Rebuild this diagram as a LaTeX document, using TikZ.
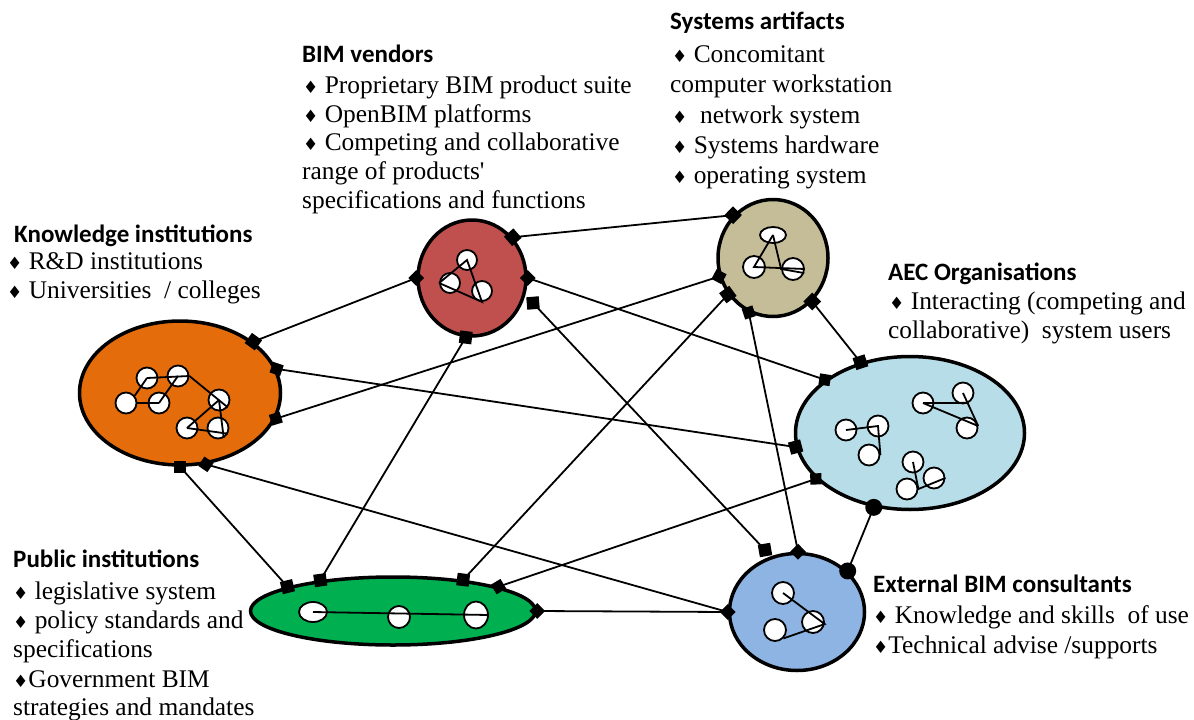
\documentclass[tikz,border=0pt]{standalone}
\usepackage{fontspec}
\setmainfont{Liberation Serif}
\newfontfamily\carlito{Carlito}
\newfontfamily\symf{DejaVu Sans}
\usetikzlibrary{shapes.geometric}
\definecolor{cOrange}{HTML}{E46C0A}
\definecolor{cRed}{HTML}{C0504D}
\definecolor{cTan}{HTML}{C4BD97}
\definecolor{cLblue}{HTML}{B7DEE8}
\definecolor{cGreen}{HTML}{00B050}
\definecolor{cBlue}{HTML}{8DB4E2}
\newcommand\dia{{\symf\fontsize{17}{17}\selectfont\char"2666}}
\begin{document}
\begin{tikzpicture}[x=1pt,y=-1pt,
  region/.style={ellipse, draw, line width=3.5pt, inner sep=0pt},
  dot/.style={circle, draw, fill=white, line width=1.8pt, inner sep=0pt, minimum size=21pt},
  oval/.style={ellipse, draw, fill=white, line width=1.8pt, inner sep=0pt},
  link/.style={line width=1.8pt},
  inner/.style={line width=1.8pt},
  sqm/.style={rectangle, fill=black, minimum size=12.5pt, inner sep=0pt},
  dmm/.style={diamond, fill=black, minimum width=16pt, minimum height=16pt, inner sep=0pt},
  clm/.style={circle, fill=black, minimum size=17pt, inner sep=0pt},
  ttl/.style={anchor=base west, inner sep=0pt, font=\carlito\bfseries\fontsize{25}{29}\selectfont},
  txt/.style={anchor=base west, inner sep=0pt, font=\fontsize{25.4}{30}\selectfont},
]
\useasboundingbox (0,0) rectangle (1194,720);

% regions
\node[region, fill=cOrange, minimum width=201pt, minimum height=144pt] (kn) at (180,393) {};
\node[region, fill=cRed, minimum width=108pt, minimum height=116pt] (bv) at (472,278) {};
\node[region, fill=cTan, minimum width=110pt, minimum height=117pt] (sa) at (773,258) {};
\node[region, fill=cLblue, minimum width=229pt, minimum height=153pt] (aec) at (910,433) {};
\node[region, fill=cGreen, minimum width=285pt, minimum height=68pt] (pub) at (393,611) {};
\node[region, fill=cBlue, minimum width=135pt, minimum height=117pt] (ext) at (797,612) {};

% knowledge inner
\node[dot] (k1) at (147,378) {};
\node[dot] (k2) at (178,376) {};
\node[dot] (k3) at (126,403) {};
\node[dot] (k4) at (159,403) {};
\node[dot] (k5) at (219,400) {};
\node[dot] (k6) at (187,428) {};
\node[dot] (k7) at (218,428) {};
\draw[inner] (k1.center) -- (k2.east);
\draw[inner] (k1.center) -- (k3.40);
\draw[inner] (k3.east) -- (k4.center);
\draw[inner] (k4.center) -- (k2.center);
\draw[inner] (k2.east) -- (k5.-40);
\draw[inner] (k5.center) -- (k6.center);
\draw[inner] (k6.center) -- (k7.-30);
\draw[inner] (k5.center) -- (k7.-60);

% BIM vendors inner
\node[dot, minimum size=20pt] (b1) at (467,260) {};
\node[dot, minimum size=20pt] (b2) at (450,283) {};
\node[dot, minimum size=20pt] (b3) at (482,291) {};
\draw[inner] (b2.west) -- (b1.center) -- (b3.south) -- (b2.west);

% systems inner
\node[oval, minimum width=26pt, minimum height=16pt] (s1) at (773,235) {};
\node[dot, minimum size=22pt] (s2) at (754,267) {};
\node[dot, minimum size=22pt] (s3) at (793,269) {};
\draw[inner] (s1.center) -- (s2.center) -- (s3.east);
\draw[inner] (s1.center) -- (s3.west) -- (s3.-20);

% AEC inner
\node[dot] (a1) at (846,430) {};
\node[dot] (a2) at (878,426) {};
\node[dot] (a3) at (869,455) {};
\draw[inner] (a1.center) -- (a2.center) -- (a3.east);
\node[dot] (a4) at (923,403) {};
\node[dot] (a5) at (963,393) {};
\node[dot] (a6) at (967,428) {};
\draw[inner] (a4.center) -- (a5.-60);
\draw[inner] (a4.center) -- (a6.10);
\draw[inner] (a5.center) -- (a6.10);
\node[dot] (a7) at (913,462) {};
\node[dot] (a8) at (934,478) {};
\node[dot] (a9) at (907,489) {};
\draw[inner] (a7.center) -- (a9.east) -- (a8.east);

% public inner
\node[oval, minimum width=28pt, minimum height=20pt] (p1) at (313,612) {};
\node[dot, minimum size=22pt] (p2) at (399,617) {};
\node[oval, minimum width=24pt, minimum height=27pt] (p3) at (476,615) {};
\draw[inner] (p1.center) -- (p3.east);

% external inner
\node[dot, minimum size=22pt] (e1) at (783,593) {};
\node[dot, minimum size=22pt] (e2) at (813,622) {};
\node[dot, minimum size=22pt] (e3) at (775,630) {};
\draw[inner] (e1.center) -- (e2.-10) -- (e3.-45);

% floating markers of the vendor--consultant link
\node[sqm, rotate=5] (f1) at (533,303) {};
\node[sqm, rotate=10] (f2) at (765,550) {};

% connectors
\draw[link] (kn.35) -- (bv.180);
\draw[link] (kn.14) -- (aec.187);
\draw[link] (kn.-15) -- (sa.199);
\draw[link] (kn.-90) -- (pub.167);
\draw[link] (kn.-70) -- (ext.180);
\draw[link] (bv.45) -- (sa.133);
\draw[link] (bv.0) -- (aec.148);
\draw[link] (f1.center) -- (f2.center);
\draw[link] (bv.-96) -- (pub.157);
\draw[link] (sa.219) -- (pub.24);
\draw[link] (sa.-114) -- (ext.89);
\draw[link] (sa.-48) -- (aec.125);
\draw[link] (aec.206) -- (pub.13);
\draw[link] (pub.0) -- (ext.180);
\draw[link] (aec.-116) -- (ext.39);

% markers
\node[sqm, rotate=54] (m1) at (kn.35) {};
\node[dmm] (m2) at (bv.180) {};
\node[dmm, rotate=26] (m3) at (kn.14) {};
\node[sqm, rotate=195] (m4) at (aec.187) {};
\node[dmm, rotate=-28] (m5) at (kn.-15) {};
\node[dmm, rotate=197] (m6) at (sa.199) {};
\node[sqm] (m7) at (kn.-90) {};
\node[sqm, rotate=104] (m8) at (pub.167) {};
\node[dmm, rotate=-79] (m9) at (kn.-70) {};
\node[dmm] (m10) at (ext.180) {};
\node[sqm, rotate=41] (m11) at (bv.45) {};
\node[sqm, rotate=136] (m12) at (sa.133) {};
\node[dmm] (m13) at (bv.0) {};
\node[dmm, rotate=126] (m14) at (aec.148) {};
\node[sqm, rotate=-97] (m17) at (bv.-96) {};
\node[sqm, rotate=98] (m18) at (pub.157) {};
\node[sqm, rotate=216] (m19) at (sa.219) {};
\node[sqm, rotate=83] (m20) at (pub.24) {};
\node[dmm, rotate=-117] (m21) at (sa.-114) {};
\node[dmm, rotate=89] (m22) at (ext.89) {};
\node[sqm, rotate=-45] (m23) at (sa.-48) {};
\node[sqm, rotate=108] (m24) at (aec.125) {};
\node[dmm, rotate=227] (m25) at (aec.206) {};
\node[dmm, rotate=76] (m26) at (pub.13) {};
\node[dmm] (m27) at (pub.0) {};
\node[clm] (m28) at (aec.-116) {};
\node[clm] (m29) at (ext.39) {};

% texts
\node[ttl] (tkn) at (14,242) {Knowledge institutions};
\node[txt] (tkn1) at (7,269) {\dia\ R\&D institutions};
\node[txt] (tkn2) at (7,298) {\dia\ Universities\ \ / colleges};

\node[ttl] (tbv) at (302,62) {BIM vendors};
\node[txt] (tbv1) at (303,93) {\dia\ Proprietary BIM product suite};
\node[txt] (tbv2) at (303,122) {\dia\ OpenBIM platforms};
\node[txt] (tbv3) at (303,150) {\dia\ Competing and collaborative};
\node[txt] (tbv4) at (302,179) {range of products\textquotesingle};
\node[txt] (tbv5) at (302,208) {specifications and functions};

\node[ttl] (tsa) at (670,29) {Systems artifacts};
\node[txt] (tsa1) at (672,62) {\dia\ Concomitant};
\node[txt] (tsa2) at (670,92) {computer workstation};
\node[txt] (tsa3) at (672,123) {\dia\ \ network system};
\node[txt] (tsa4) at (672,153) {\dia\ Systems hardware};
\node[txt] (tsa5) at (672,183) {\dia\ operating system};

\node[ttl] (taec) at (888,280) {AEC Organisations};
\node[txt] (taec1) at (889,309) {\dia\ Interacting (competing and};
\node[txt] (taec2) at (888,338) {collaborative)\ \ system users};

\node[ttl] (tpub) at (13,567) {Public institutions};
\node[txt] (tpub1) at (13,599) {\dia\ legislative system};
\node[txt] (tpub2) at (13,628) {\dia\ policy standards and};
\node[txt] (tpub3) at (13,657) {specifications};
\node[txt] (tpub4) at (13,687) {\dia Government BIM};
\node[txt] (tpub5) at (13,715) {strategies and mandates};

\node[ttl] (text) at (873,592) {External BIM consultants};
\node[txt] (text1) at (873,623) {\dia\ Knowledge and skills\ \ of use};
\node[txt] (text2) at (873,653) {\dia Technical advise /supports};
\end{tikzpicture}
\end{document}
